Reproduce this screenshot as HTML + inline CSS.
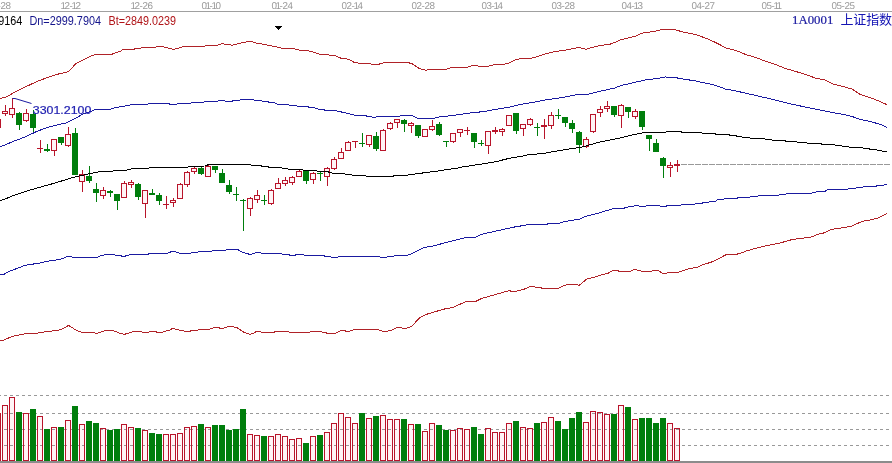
<!DOCTYPE html>
<html><head><meta charset="utf-8"><style>
html,body{margin:0;padding:0;background:#fff;}
body{width:892px;height:463px;overflow:hidden;}
svg{display:block;}
.d{font-family:"Liberation Sans",sans-serif;font-size:19.8px;fill:#9a9a9a;}
.lg{font-family:"Liberation Sans",sans-serif;font-size:12.3px;}
.nm{font-family:"Liberation Serif","Noto Serif CJK SC",serif;font-size:12px;fill:#1a1aa0;}
</style></head><body>
<svg width="892" height="463" viewBox="0 0 892 463">
<rect x="0" y="0" width="892" height="463" fill="#fff"/>
<g class="d" transform="matrix(0.5,0,0.0005,0.5,0,0)">
<text x="-13.6 -7.6 -1.6 6.4 16.4" y="18" text-anchor="middle">11-28</text>
<text x="126.4 134.4 142.4 148.4 156.4" y="18" text-anchor="middle">12-12</text>
<text x="266.4 274.4 282.4 290.4 300.4" y="18" text-anchor="middle">12-26</text>
<text x="408.4 416.4 422.4 428.4 436.4" y="18" text-anchor="middle">01-10</text>
<text x="548.4 556.4 562.4 570.4 580.4" y="18" text-anchor="middle">01-24</text>
<text x="688.4 698.4 706.4 712.4 720.4" y="18" text-anchor="middle">02-14</text>
<text x="828.4 838.4 846.4 854.4 864.4" y="18" text-anchor="middle">02-28</text>
<text x="968.4 978.4 986.4 992.4 1000.4" y="18" text-anchor="middle">03-14</text>
<text x="1108.4 1118.4 1126.4 1134.4 1144.4" y="18" text-anchor="middle">03-28</text>
<text x="1248.4 1258.4 1266.4 1272.4 1280.4" y="18" text-anchor="middle">04-13</text>
<text x="1388.4 1398.4 1406.4 1414.4 1424.4" y="18" text-anchor="middle">04-27</text>
<text x="1528.4 1538.4 1546.4 1552.4 1558.4" y="18" text-anchor="middle">05-11</text>
<text x="1668.4 1678.4 1686.4 1694.4 1704.4" y="18" text-anchor="middle">05-25</text>
</g>
<rect x="0" y="11" width="892" height="1" fill="#a0a0a0"/>
<g class="lg">
<text x="-1.7" y="25" fill="#000" textLength="24" lengthAdjust="spacingAndGlyphs">9164</text>
<text x="29.5" y="25" fill="#14148c" textLength="71.5" lengthAdjust="spacingAndGlyphs">Dn=2999.7904</text>
<text x="108.5" y="25" fill="#b01418" textLength="67.5" lengthAdjust="spacingAndGlyphs">Bt=2849.0239</text>
</g>
<text x="792" y="24" class="nm" textLength="41.3" lengthAdjust="spacingAndGlyphs" stroke="#1a1aa0" stroke-width="0.2">1A0001</text>
<text x="840.5" y="24" style="font-family:'Liberation Sans','Noto Sans CJK SC',sans-serif;font-size:13px;fill:#1414b4;letter-spacing:-0.15px">上证指数</text>
<g fill="#000" shape-rendering="crispEdges">
<rect x="275" y="26" width="7" height="1"/><rect x="276" y="27" width="5" height="1"/><rect x="277" y="28" width="3" height="1"/><rect x="278" y="29" width="1" height="1"/>
</g>
<g shape-rendering="crispEdges"><rect x="-4" y="414" width="4" height="46" fill="#fff4f6"/>
<rect x="3" y="406" width="4" height="54" fill="#fff4f6"/>
<rect x="10" y="398" width="4" height="62" fill="#fff4f6"/>
<rect x="24" y="414" width="4" height="46" fill="#fff4f6"/>
<rect x="38" y="417" width="4" height="43" fill="#fff4f6"/>
<rect x="52" y="428" width="4" height="32" fill="#fff4f6"/>
<rect x="66" y="421" width="4" height="39" fill="#fff4f6"/>
<rect x="80" y="425" width="4" height="35" fill="#fff4f6"/>
<rect x="101" y="429" width="4" height="31" fill="#fff4f6"/>
<rect x="122" y="425" width="4" height="35" fill="#fff4f6"/>
<rect x="129" y="428" width="4" height="32" fill="#fff4f6"/>
<rect x="143" y="431" width="4" height="29" fill="#fff4f6"/>
<rect x="164" y="435" width="4" height="25" fill="#fff4f6"/>
<rect x="171" y="435" width="4" height="25" fill="#fff4f6"/>
<rect x="178" y="434" width="4" height="26" fill="#fff4f6"/>
<rect x="185" y="428" width="4" height="32" fill="#fff4f6"/>
<rect x="192" y="427" width="4" height="33" fill="#fff4f6"/>
<rect x="206" y="428" width="4" height="32" fill="#fff4f6"/>
<rect x="248" y="435" width="4" height="25" fill="#fff4f6"/>
<rect x="255" y="436" width="4" height="24" fill="#fff4f6"/>
<rect x="269" y="437" width="4" height="23" fill="#fff4f6"/>
<rect x="276" y="435" width="4" height="25" fill="#fff4f6"/>
<rect x="283" y="437" width="4" height="23" fill="#fff4f6"/>
<rect x="290" y="440" width="4" height="20" fill="#fff4f6"/>
<rect x="297" y="439" width="4" height="21" fill="#fff4f6"/>
<rect x="311" y="437" width="4" height="23" fill="#fff4f6"/>
<rect x="325" y="433" width="4" height="27" fill="#fff4f6"/>
<rect x="332" y="424" width="4" height="36" fill="#fff4f6"/>
<rect x="339" y="414" width="4" height="46" fill="#fff4f6"/>
<rect x="346" y="418" width="4" height="42" fill="#fff4f6"/>
<rect x="353" y="424" width="4" height="36" fill="#fff4f6"/>
<rect x="367" y="419" width="4" height="41" fill="#fff4f6"/>
<rect x="381" y="416" width="4" height="44" fill="#fff4f6"/>
<rect x="388" y="420" width="4" height="40" fill="#fff4f6"/>
<rect x="395" y="420" width="4" height="40" fill="#fff4f6"/>
<rect x="409" y="425" width="4" height="35" fill="#fff4f6"/>
<rect x="423" y="432" width="4" height="28" fill="#fff4f6"/>
<rect x="430" y="424" width="4" height="36" fill="#fff4f6"/>
<rect x="451" y="431" width="4" height="29" fill="#fff4f6"/>
<rect x="458" y="429" width="4" height="31" fill="#fff4f6"/>
<rect x="465" y="430" width="4" height="30" fill="#fff4f6"/>
<rect x="486" y="429" width="4" height="31" fill="#fff4f6"/>
<rect x="493" y="433" width="4" height="27" fill="#fff4f6"/>
<rect x="500" y="433" width="4" height="27" fill="#fff4f6"/>
<rect x="507" y="424" width="4" height="36" fill="#fff4f6"/>
<rect x="521" y="428" width="4" height="32" fill="#fff4f6"/>
<rect x="528" y="429" width="4" height="31" fill="#fff4f6"/>
<rect x="542" y="423" width="4" height="37" fill="#fff4f6"/>
<rect x="549" y="418" width="4" height="42" fill="#fff4f6"/>
<rect x="584" y="423" width="4" height="37" fill="#fff4f6"/>
<rect x="591" y="412" width="4" height="48" fill="#fff4f6"/>
<rect x="598" y="413" width="4" height="47" fill="#fff4f6"/>
<rect x="605" y="415" width="4" height="45" fill="#fff4f6"/>
<rect x="619" y="406" width="4" height="54" fill="#fff4f6"/>
<rect x="633" y="420" width="4" height="40" fill="#fff4f6"/>
<rect x="668" y="424" width="4" height="36" fill="#fff4f6"/>
<rect x="675" y="429" width="4" height="31" fill="#fff4f6"/></g>
<g shape-rendering="crispEdges" stroke="#999" stroke-width="1">
<line x1="-2" y1="395.5" x2="892" y2="395.5" stroke-dasharray="3,3"/>
<line x1="-2" y1="413.5" x2="892" y2="413.5" stroke-dasharray="3,3"/>
<line x1="-2" y1="429.5" x2="892" y2="429.5" stroke-dasharray="3,3"/>
<line x1="-2" y1="445.5" x2="892" y2="445.5" stroke-dasharray="3,3"/>
<line x1="681" y1="164.5" x2="890" y2="164.5" stroke-dasharray="6,1"/>
</g>
<g shape-rendering="crispEdges">
<rect x="-4" y="120" width="4" height="7" fill="#fff4f6"/>
<rect x="-5" y="119" width="6" height="1" fill="#b8142a"/>
<rect x="-5" y="127" width="6" height="1" fill="#b8142a"/>
<rect x="-5" y="120" width="1" height="7" fill="#b8142a"/>
<rect x="0" y="120" width="1" height="7" fill="#b8142a"/>
<rect x="5" y="105" width="1" height="6" fill="#b8142a"/>
<rect x="5" y="114" width="1" height="2" fill="#b8142a"/>
<rect x="3" y="112" width="4" height="1" fill="#fff4f6"/>
<rect x="2" y="111" width="6" height="1" fill="#b8142a"/>
<rect x="2" y="113" width="6" height="1" fill="#b8142a"/>
<rect x="2" y="112" width="1" height="1" fill="#b8142a"/>
<rect x="7" y="112" width="1" height="1" fill="#b8142a"/>
<rect x="12" y="98" width="1" height="10" fill="#b8142a"/>
<rect x="12" y="115" width="1" height="3" fill="#b8142a"/>
<rect x="10" y="109" width="4" height="5" fill="#fff4f6"/>
<rect x="9" y="108" width="6" height="1" fill="#b8142a"/>
<rect x="9" y="114" width="6" height="1" fill="#b8142a"/>
<rect x="9" y="109" width="1" height="5" fill="#b8142a"/>
<rect x="14" y="109" width="1" height="5" fill="#b8142a"/>
<rect x="19" y="112" width="1" height="18" fill="#007e0c"/>
<rect x="16" y="113" width="6" height="12" fill="#007e0c"/>
<rect x="26" y="109" width="1" height="4" fill="#b8142a"/>
<rect x="26" y="121" width="1" height="1" fill="#b8142a"/>
<rect x="24" y="114" width="4" height="6" fill="#fff4f6"/>
<rect x="23" y="113" width="6" height="1" fill="#b8142a"/>
<rect x="23" y="120" width="6" height="1" fill="#b8142a"/>
<rect x="23" y="114" width="1" height="6" fill="#b8142a"/>
<rect x="28" y="114" width="1" height="6" fill="#b8142a"/>
<rect x="33" y="110" width="1" height="22" fill="#007e0c"/>
<rect x="30" y="114" width="6" height="14" fill="#007e0c"/>
<rect x="40" y="140" width="1" height="8" fill="#b8142a"/>
<rect x="40" y="149" width="1" height="4" fill="#b8142a"/>
<rect x="37" y="148" width="6" height="1" fill="#b8142a"/>
<rect x="47" y="144" width="1" height="8" fill="#007e0c"/>
<rect x="44" y="149" width="6" height="2" fill="#007e0c"/>
<rect x="54" y="151" width="1" height="5" fill="#b8142a"/>
<rect x="52" y="140" width="4" height="10" fill="#fff4f6"/>
<rect x="51" y="139" width="6" height="1" fill="#b8142a"/>
<rect x="51" y="150" width="6" height="1" fill="#b8142a"/>
<rect x="51" y="140" width="1" height="10" fill="#b8142a"/>
<rect x="56" y="140" width="1" height="10" fill="#b8142a"/>
<rect x="61" y="137" width="1" height="8" fill="#007e0c"/>
<rect x="58" y="137" width="6" height="6" fill="#007e0c"/>
<rect x="68" y="127" width="1" height="7" fill="#b8142a"/>
<rect x="68" y="146" width="1" height="1" fill="#b8142a"/>
<rect x="66" y="135" width="4" height="10" fill="#fff4f6"/>
<rect x="65" y="134" width="6" height="1" fill="#b8142a"/>
<rect x="65" y="145" width="6" height="1" fill="#b8142a"/>
<rect x="65" y="135" width="1" height="10" fill="#b8142a"/>
<rect x="70" y="135" width="1" height="10" fill="#b8142a"/>
<rect x="75" y="128" width="1" height="47" fill="#007e0c"/>
<rect x="72" y="133" width="6" height="42" fill="#007e0c"/>
<rect x="82" y="170" width="1" height="4" fill="#b8142a"/>
<rect x="82" y="182" width="1" height="10" fill="#b8142a"/>
<rect x="80" y="175" width="4" height="6" fill="#fff4f6"/>
<rect x="79" y="174" width="6" height="1" fill="#b8142a"/>
<rect x="79" y="181" width="6" height="1" fill="#b8142a"/>
<rect x="79" y="175" width="1" height="6" fill="#b8142a"/>
<rect x="84" y="175" width="1" height="6" fill="#b8142a"/>
<rect x="89" y="166" width="1" height="17" fill="#007e0c"/>
<rect x="86" y="176" width="6" height="5" fill="#007e0c"/>
<rect x="96" y="183" width="1" height="19" fill="#007e0c"/>
<rect x="93" y="189" width="6" height="4" fill="#007e0c"/>
<rect x="103" y="187" width="1" height="3" fill="#b8142a"/>
<rect x="103" y="196" width="1" height="3" fill="#b8142a"/>
<rect x="101" y="191" width="4" height="4" fill="#fff4f6"/>
<rect x="100" y="190" width="6" height="1" fill="#b8142a"/>
<rect x="100" y="195" width="6" height="1" fill="#b8142a"/>
<rect x="100" y="191" width="1" height="4" fill="#b8142a"/>
<rect x="105" y="191" width="1" height="4" fill="#b8142a"/>
<rect x="110" y="190" width="1" height="7" fill="#007e0c"/>
<rect x="107" y="191" width="6" height="2" fill="#007e0c"/>
<rect x="117" y="194" width="1" height="16" fill="#007e0c"/>
<rect x="114" y="194" width="6" height="7" fill="#007e0c"/>
<rect x="124" y="181" width="1" height="2" fill="#b8142a"/>
<rect x="122" y="184" width="4" height="13" fill="#fff4f6"/>
<rect x="121" y="183" width="6" height="1" fill="#b8142a"/>
<rect x="121" y="197" width="6" height="1" fill="#b8142a"/>
<rect x="121" y="184" width="1" height="13" fill="#b8142a"/>
<rect x="126" y="184" width="1" height="13" fill="#b8142a"/>
<rect x="131" y="180" width="1" height="2" fill="#b8142a"/>
<rect x="131" y="185" width="1" height="3" fill="#b8142a"/>
<rect x="129" y="183" width="4" height="1" fill="#fff4f6"/>
<rect x="128" y="182" width="6" height="1" fill="#b8142a"/>
<rect x="128" y="184" width="6" height="1" fill="#b8142a"/>
<rect x="128" y="183" width="1" height="1" fill="#b8142a"/>
<rect x="133" y="183" width="1" height="1" fill="#b8142a"/>
<rect x="138" y="183" width="1" height="17" fill="#007e0c"/>
<rect x="135" y="184" width="6" height="13" fill="#007e0c"/>
<rect x="145" y="204" width="1" height="14" fill="#b8142a"/>
<rect x="143" y="191" width="4" height="12" fill="#fff4f6"/>
<rect x="142" y="190" width="6" height="1" fill="#b8142a"/>
<rect x="142" y="203" width="6" height="1" fill="#b8142a"/>
<rect x="142" y="191" width="1" height="12" fill="#b8142a"/>
<rect x="147" y="191" width="1" height="12" fill="#b8142a"/>
<rect x="152" y="189" width="1" height="6" fill="#007e0c"/>
<rect x="149" y="193" width="6" height="2" fill="#007e0c"/>
<rect x="159" y="193" width="1" height="12" fill="#007e0c"/>
<rect x="156" y="195" width="6" height="6" fill="#007e0c"/>
<rect x="166" y="196" width="1" height="8" fill="#b8142a"/>
<rect x="166" y="205" width="1" height="4" fill="#b8142a"/>
<rect x="163" y="204" width="6" height="1" fill="#b8142a"/>
<rect x="173" y="198" width="1" height="2" fill="#b8142a"/>
<rect x="173" y="203" width="1" height="4" fill="#b8142a"/>
<rect x="171" y="201" width="4" height="1" fill="#fff4f6"/>
<rect x="170" y="200" width="6" height="1" fill="#b8142a"/>
<rect x="170" y="202" width="6" height="1" fill="#b8142a"/>
<rect x="170" y="201" width="1" height="1" fill="#b8142a"/>
<rect x="175" y="201" width="1" height="1" fill="#b8142a"/>
<rect x="180" y="183" width="1" height="1" fill="#b8142a"/>
<rect x="178" y="185" width="4" height="13" fill="#fff4f6"/>
<rect x="177" y="184" width="6" height="1" fill="#b8142a"/>
<rect x="177" y="198" width="6" height="1" fill="#b8142a"/>
<rect x="177" y="185" width="1" height="13" fill="#b8142a"/>
<rect x="182" y="185" width="1" height="13" fill="#b8142a"/>
<rect x="187" y="171" width="1" height="1" fill="#b8142a"/>
<rect x="187" y="185" width="1" height="2" fill="#b8142a"/>
<rect x="185" y="173" width="4" height="11" fill="#fff4f6"/>
<rect x="184" y="172" width="6" height="1" fill="#b8142a"/>
<rect x="184" y="184" width="6" height="1" fill="#b8142a"/>
<rect x="184" y="173" width="1" height="11" fill="#b8142a"/>
<rect x="189" y="173" width="1" height="11" fill="#b8142a"/>
<rect x="194" y="166" width="1" height="2" fill="#b8142a"/>
<rect x="194" y="172" width="1" height="2" fill="#b8142a"/>
<rect x="192" y="169" width="4" height="2" fill="#fff4f6"/>
<rect x="191" y="168" width="6" height="1" fill="#b8142a"/>
<rect x="191" y="171" width="6" height="1" fill="#b8142a"/>
<rect x="191" y="169" width="1" height="2" fill="#b8142a"/>
<rect x="196" y="169" width="1" height="2" fill="#b8142a"/>
<rect x="201" y="166" width="1" height="9" fill="#007e0c"/>
<rect x="198" y="168" width="6" height="6" fill="#007e0c"/>
<rect x="208" y="164" width="1" height="2" fill="#b8142a"/>
<rect x="206" y="167" width="4" height="9" fill="#fff4f6"/>
<rect x="205" y="166" width="6" height="1" fill="#b8142a"/>
<rect x="205" y="176" width="6" height="1" fill="#b8142a"/>
<rect x="205" y="167" width="1" height="9" fill="#b8142a"/>
<rect x="210" y="167" width="1" height="9" fill="#b8142a"/>
<rect x="215" y="166" width="1" height="7" fill="#007e0c"/>
<rect x="212" y="166" width="6" height="4" fill="#007e0c"/>
<rect x="222" y="169" width="1" height="14" fill="#007e0c"/>
<rect x="219" y="173" width="6" height="10" fill="#007e0c"/>
<rect x="229" y="180" width="1" height="14" fill="#007e0c"/>
<rect x="226" y="185" width="6" height="7" fill="#007e0c"/>
<rect x="236" y="187" width="1" height="14" fill="#007e0c"/>
<rect x="233" y="194" width="6" height="1" fill="#007e0c"/>
<rect x="243" y="199" width="1" height="32" fill="#007e0c"/>
<rect x="240" y="200" width="6" height="1" fill="#007e0c"/>
<rect x="250" y="197" width="1" height="1" fill="#b8142a"/>
<rect x="250" y="209" width="1" height="7" fill="#b8142a"/>
<rect x="248" y="199" width="4" height="9" fill="#fff4f6"/>
<rect x="247" y="198" width="6" height="1" fill="#b8142a"/>
<rect x="247" y="208" width="6" height="1" fill="#b8142a"/>
<rect x="247" y="199" width="1" height="9" fill="#b8142a"/>
<rect x="252" y="199" width="1" height="9" fill="#b8142a"/>
<rect x="257" y="190" width="1" height="5" fill="#b8142a"/>
<rect x="257" y="200" width="1" height="3" fill="#b8142a"/>
<rect x="255" y="196" width="4" height="3" fill="#fff4f6"/>
<rect x="254" y="195" width="6" height="1" fill="#b8142a"/>
<rect x="254" y="199" width="6" height="1" fill="#b8142a"/>
<rect x="254" y="196" width="1" height="3" fill="#b8142a"/>
<rect x="259" y="196" width="1" height="3" fill="#b8142a"/>
<rect x="264" y="195" width="1" height="10" fill="#007e0c"/>
<rect x="261" y="200" width="6" height="1" fill="#007e0c"/>
<rect x="271" y="189" width="1" height="1" fill="#b8142a"/>
<rect x="271" y="204" width="1" height="1" fill="#b8142a"/>
<rect x="269" y="191" width="4" height="12" fill="#fff4f6"/>
<rect x="268" y="190" width="6" height="1" fill="#b8142a"/>
<rect x="268" y="203" width="6" height="1" fill="#b8142a"/>
<rect x="268" y="191" width="1" height="12" fill="#b8142a"/>
<rect x="273" y="191" width="1" height="12" fill="#b8142a"/>
<rect x="278" y="178" width="1" height="5" fill="#b8142a"/>
<rect x="276" y="184" width="4" height="4" fill="#fff4f6"/>
<rect x="275" y="183" width="6" height="1" fill="#b8142a"/>
<rect x="275" y="188" width="6" height="1" fill="#b8142a"/>
<rect x="275" y="184" width="1" height="4" fill="#b8142a"/>
<rect x="280" y="184" width="1" height="4" fill="#b8142a"/>
<rect x="285" y="177" width="1" height="3" fill="#b8142a"/>
<rect x="285" y="184" width="1" height="2" fill="#b8142a"/>
<rect x="283" y="181" width="4" height="2" fill="#fff4f6"/>
<rect x="282" y="180" width="6" height="1" fill="#b8142a"/>
<rect x="282" y="183" width="6" height="1" fill="#b8142a"/>
<rect x="282" y="181" width="1" height="2" fill="#b8142a"/>
<rect x="287" y="181" width="1" height="2" fill="#b8142a"/>
<rect x="292" y="176" width="1" height="1" fill="#b8142a"/>
<rect x="292" y="183" width="1" height="2" fill="#b8142a"/>
<rect x="290" y="178" width="4" height="4" fill="#fff4f6"/>
<rect x="289" y="177" width="6" height="1" fill="#b8142a"/>
<rect x="289" y="182" width="6" height="1" fill="#b8142a"/>
<rect x="289" y="178" width="1" height="4" fill="#b8142a"/>
<rect x="294" y="178" width="1" height="4" fill="#b8142a"/>
<rect x="299" y="170" width="1" height="1" fill="#b8142a"/>
<rect x="297" y="172" width="4" height="4" fill="#fff4f6"/>
<rect x="296" y="171" width="6" height="1" fill="#b8142a"/>
<rect x="296" y="176" width="6" height="1" fill="#b8142a"/>
<rect x="296" y="172" width="1" height="4" fill="#b8142a"/>
<rect x="301" y="172" width="1" height="4" fill="#b8142a"/>
<rect x="306" y="170" width="1" height="14" fill="#007e0c"/>
<rect x="303" y="170" width="6" height="11" fill="#007e0c"/>
<rect x="313" y="172" width="1" height="1" fill="#b8142a"/>
<rect x="313" y="180" width="1" height="4" fill="#b8142a"/>
<rect x="311" y="174" width="4" height="5" fill="#fff4f6"/>
<rect x="310" y="173" width="6" height="1" fill="#b8142a"/>
<rect x="310" y="179" width="6" height="1" fill="#b8142a"/>
<rect x="310" y="174" width="1" height="5" fill="#b8142a"/>
<rect x="315" y="174" width="1" height="5" fill="#b8142a"/>
<rect x="320" y="172" width="1" height="9" fill="#007e0c"/>
<rect x="317" y="173" width="6" height="1" fill="#007e0c"/>
<rect x="327" y="167" width="1" height="1" fill="#b8142a"/>
<rect x="327" y="177" width="1" height="9" fill="#b8142a"/>
<rect x="325" y="169" width="4" height="7" fill="#fff4f6"/>
<rect x="324" y="168" width="6" height="1" fill="#b8142a"/>
<rect x="324" y="176" width="6" height="1" fill="#b8142a"/>
<rect x="324" y="169" width="1" height="7" fill="#b8142a"/>
<rect x="329" y="169" width="1" height="7" fill="#b8142a"/>
<rect x="334" y="157" width="1" height="2" fill="#b8142a"/>
<rect x="334" y="169" width="1" height="1" fill="#b8142a"/>
<rect x="332" y="160" width="4" height="8" fill="#fff4f6"/>
<rect x="331" y="159" width="6" height="1" fill="#b8142a"/>
<rect x="331" y="168" width="6" height="1" fill="#b8142a"/>
<rect x="331" y="160" width="1" height="8" fill="#b8142a"/>
<rect x="336" y="160" width="1" height="8" fill="#b8142a"/>
<rect x="341" y="148" width="1" height="4" fill="#b8142a"/>
<rect x="339" y="153" width="4" height="5" fill="#fff4f6"/>
<rect x="338" y="152" width="6" height="1" fill="#b8142a"/>
<rect x="338" y="158" width="6" height="1" fill="#b8142a"/>
<rect x="338" y="153" width="1" height="5" fill="#b8142a"/>
<rect x="343" y="153" width="1" height="5" fill="#b8142a"/>
<rect x="348" y="141" width="1" height="1" fill="#b8142a"/>
<rect x="346" y="143" width="4" height="7" fill="#fff4f6"/>
<rect x="345" y="142" width="6" height="1" fill="#b8142a"/>
<rect x="345" y="150" width="6" height="1" fill="#b8142a"/>
<rect x="345" y="143" width="1" height="7" fill="#b8142a"/>
<rect x="350" y="143" width="1" height="7" fill="#b8142a"/>
<rect x="355" y="142" width="1" height="6" fill="#b8142a"/>
<rect x="352" y="141" width="6" height="1" fill="#b8142a"/>
<rect x="362" y="133" width="1" height="14" fill="#007e0c"/>
<rect x="359" y="143" width="6" height="1" fill="#007e0c"/>
<rect x="369" y="145" width="1" height="2" fill="#b8142a"/>
<rect x="367" y="136" width="4" height="8" fill="#fff4f6"/>
<rect x="366" y="135" width="6" height="1" fill="#b8142a"/>
<rect x="366" y="144" width="6" height="1" fill="#b8142a"/>
<rect x="366" y="136" width="1" height="8" fill="#b8142a"/>
<rect x="371" y="136" width="1" height="8" fill="#b8142a"/>
<rect x="376" y="132" width="1" height="19" fill="#007e0c"/>
<rect x="373" y="136" width="6" height="13" fill="#007e0c"/>
<rect x="383" y="129" width="1" height="1" fill="#b8142a"/>
<rect x="381" y="131" width="4" height="19" fill="#fff4f6"/>
<rect x="380" y="130" width="6" height="1" fill="#b8142a"/>
<rect x="380" y="150" width="6" height="1" fill="#b8142a"/>
<rect x="380" y="131" width="1" height="19" fill="#b8142a"/>
<rect x="385" y="131" width="1" height="19" fill="#b8142a"/>
<rect x="390" y="122" width="1" height="1" fill="#b8142a"/>
<rect x="390" y="129" width="1" height="1" fill="#b8142a"/>
<rect x="388" y="124" width="4" height="4" fill="#fff4f6"/>
<rect x="387" y="123" width="6" height="1" fill="#b8142a"/>
<rect x="387" y="128" width="6" height="1" fill="#b8142a"/>
<rect x="387" y="124" width="1" height="4" fill="#b8142a"/>
<rect x="392" y="124" width="1" height="4" fill="#b8142a"/>
<rect x="397" y="123" width="1" height="5" fill="#b8142a"/>
<rect x="395" y="120" width="4" height="2" fill="#fff4f6"/>
<rect x="394" y="119" width="6" height="1" fill="#b8142a"/>
<rect x="394" y="122" width="6" height="1" fill="#b8142a"/>
<rect x="394" y="120" width="1" height="2" fill="#b8142a"/>
<rect x="399" y="120" width="1" height="2" fill="#b8142a"/>
<rect x="404" y="119" width="1" height="13" fill="#007e0c"/>
<rect x="401" y="120" width="6" height="4" fill="#007e0c"/>
<rect x="411" y="122" width="1" height="1" fill="#b8142a"/>
<rect x="411" y="126" width="1" height="7" fill="#b8142a"/>
<rect x="409" y="124" width="4" height="1" fill="#fff4f6"/>
<rect x="408" y="123" width="6" height="1" fill="#b8142a"/>
<rect x="408" y="125" width="6" height="1" fill="#b8142a"/>
<rect x="408" y="124" width="1" height="1" fill="#b8142a"/>
<rect x="413" y="124" width="1" height="1" fill="#b8142a"/>
<rect x="418" y="125" width="1" height="13" fill="#007e0c"/>
<rect x="415" y="125" width="6" height="11" fill="#007e0c"/>
<rect x="423" y="130" width="4" height="6" fill="#fff4f6"/>
<rect x="422" y="129" width="6" height="1" fill="#b8142a"/>
<rect x="422" y="136" width="6" height="1" fill="#b8142a"/>
<rect x="422" y="130" width="1" height="6" fill="#b8142a"/>
<rect x="427" y="130" width="1" height="6" fill="#b8142a"/>
<rect x="432" y="120" width="1" height="6" fill="#b8142a"/>
<rect x="432" y="130" width="1" height="1" fill="#b8142a"/>
<rect x="430" y="127" width="4" height="2" fill="#fff4f6"/>
<rect x="429" y="126" width="6" height="1" fill="#b8142a"/>
<rect x="429" y="129" width="6" height="1" fill="#b8142a"/>
<rect x="429" y="127" width="1" height="2" fill="#b8142a"/>
<rect x="434" y="127" width="1" height="2" fill="#b8142a"/>
<rect x="439" y="122" width="1" height="14" fill="#007e0c"/>
<rect x="436" y="124" width="6" height="11" fill="#007e0c"/>
<rect x="446" y="141" width="1" height="6" fill="#007e0c"/>
<rect x="443" y="141" width="6" height="1" fill="#007e0c"/>
<rect x="453" y="142" width="1" height="1" fill="#b8142a"/>
<rect x="451" y="134" width="4" height="7" fill="#fff4f6"/>
<rect x="450" y="133" width="6" height="1" fill="#b8142a"/>
<rect x="450" y="141" width="6" height="1" fill="#b8142a"/>
<rect x="450" y="134" width="1" height="7" fill="#b8142a"/>
<rect x="455" y="134" width="1" height="7" fill="#b8142a"/>
<rect x="460" y="133" width="1" height="4" fill="#b8142a"/>
<rect x="458" y="130" width="4" height="2" fill="#fff4f6"/>
<rect x="457" y="129" width="6" height="1" fill="#b8142a"/>
<rect x="457" y="132" width="6" height="1" fill="#b8142a"/>
<rect x="457" y="130" width="1" height="2" fill="#b8142a"/>
<rect x="462" y="130" width="1" height="2" fill="#b8142a"/>
<rect x="467" y="127" width="1" height="3" fill="#b8142a"/>
<rect x="467" y="131" width="1" height="4" fill="#b8142a"/>
<rect x="464" y="130" width="6" height="1" fill="#b8142a"/>
<rect x="474" y="133" width="1" height="15" fill="#007e0c"/>
<rect x="471" y="133" width="6" height="9" fill="#007e0c"/>
<rect x="481" y="140" width="1" height="6" fill="#007e0c"/>
<rect x="478" y="143" width="6" height="1" fill="#007e0c"/>
<rect x="488" y="146" width="1" height="8" fill="#b8142a"/>
<rect x="486" y="132" width="4" height="13" fill="#fff4f6"/>
<rect x="485" y="131" width="6" height="1" fill="#b8142a"/>
<rect x="485" y="145" width="6" height="1" fill="#b8142a"/>
<rect x="485" y="132" width="1" height="13" fill="#b8142a"/>
<rect x="490" y="132" width="1" height="13" fill="#b8142a"/>
<rect x="495" y="127" width="1" height="3" fill="#b8142a"/>
<rect x="495" y="132" width="1" height="2" fill="#b8142a"/>
<rect x="492" y="130" width="6" height="2" fill="#b8142a"/>
<rect x="502" y="128" width="1" height="1" fill="#b8142a"/>
<rect x="502" y="132" width="1" height="4" fill="#b8142a"/>
<rect x="500" y="130" width="4" height="1" fill="#fff4f6"/>
<rect x="499" y="129" width="6" height="1" fill="#b8142a"/>
<rect x="499" y="131" width="6" height="1" fill="#b8142a"/>
<rect x="499" y="130" width="1" height="1" fill="#b8142a"/>
<rect x="504" y="130" width="1" height="1" fill="#b8142a"/>
<rect x="507" y="116" width="4" height="9" fill="#fff4f6"/>
<rect x="506" y="115" width="6" height="1" fill="#b8142a"/>
<rect x="506" y="125" width="6" height="1" fill="#b8142a"/>
<rect x="506" y="116" width="1" height="9" fill="#b8142a"/>
<rect x="511" y="116" width="1" height="9" fill="#b8142a"/>
<rect x="516" y="113" width="1" height="21" fill="#007e0c"/>
<rect x="513" y="113" width="6" height="18" fill="#007e0c"/>
<rect x="523" y="129" width="1" height="7" fill="#b8142a"/>
<rect x="521" y="125" width="4" height="3" fill="#fff4f6"/>
<rect x="520" y="124" width="6" height="1" fill="#b8142a"/>
<rect x="520" y="128" width="6" height="1" fill="#b8142a"/>
<rect x="520" y="125" width="1" height="3" fill="#b8142a"/>
<rect x="525" y="125" width="1" height="3" fill="#b8142a"/>
<rect x="530" y="118" width="1" height="1" fill="#b8142a"/>
<rect x="530" y="125" width="1" height="1" fill="#b8142a"/>
<rect x="528" y="120" width="4" height="4" fill="#fff4f6"/>
<rect x="527" y="119" width="6" height="1" fill="#b8142a"/>
<rect x="527" y="124" width="6" height="1" fill="#b8142a"/>
<rect x="527" y="120" width="1" height="4" fill="#b8142a"/>
<rect x="532" y="120" width="1" height="4" fill="#b8142a"/>
<rect x="537" y="123" width="1" height="13" fill="#007e0c"/>
<rect x="534" y="127" width="6" height="1" fill="#007e0c"/>
<rect x="544" y="119" width="1" height="6" fill="#b8142a"/>
<rect x="544" y="127" width="1" height="12" fill="#b8142a"/>
<rect x="541" y="125" width="6" height="2" fill="#b8142a"/>
<rect x="551" y="112" width="1" height="3" fill="#b8142a"/>
<rect x="551" y="126" width="1" height="3" fill="#b8142a"/>
<rect x="549" y="116" width="4" height="9" fill="#fff4f6"/>
<rect x="548" y="115" width="6" height="1" fill="#b8142a"/>
<rect x="548" y="125" width="6" height="1" fill="#b8142a"/>
<rect x="548" y="116" width="1" height="9" fill="#b8142a"/>
<rect x="553" y="116" width="1" height="9" fill="#b8142a"/>
<rect x="558" y="109" width="1" height="10" fill="#007e0c"/>
<rect x="555" y="115" width="6" height="1" fill="#007e0c"/>
<rect x="565" y="117" width="1" height="10" fill="#007e0c"/>
<rect x="562" y="117" width="6" height="6" fill="#007e0c"/>
<rect x="572" y="120" width="1" height="13" fill="#007e0c"/>
<rect x="569" y="123" width="6" height="6" fill="#007e0c"/>
<rect x="579" y="131" width="1" height="22" fill="#007e0c"/>
<rect x="576" y="132" width="6" height="13" fill="#007e0c"/>
<rect x="586" y="137" width="1" height="2" fill="#b8142a"/>
<rect x="586" y="147" width="1" height="1" fill="#b8142a"/>
<rect x="584" y="140" width="4" height="6" fill="#fff4f6"/>
<rect x="583" y="139" width="6" height="1" fill="#b8142a"/>
<rect x="583" y="146" width="6" height="1" fill="#b8142a"/>
<rect x="583" y="140" width="1" height="6" fill="#b8142a"/>
<rect x="588" y="140" width="1" height="6" fill="#b8142a"/>
<rect x="593" y="132" width="1" height="1" fill="#b8142a"/>
<rect x="591" y="115" width="4" height="16" fill="#fff4f6"/>
<rect x="590" y="114" width="6" height="1" fill="#b8142a"/>
<rect x="590" y="131" width="6" height="1" fill="#b8142a"/>
<rect x="590" y="115" width="1" height="16" fill="#b8142a"/>
<rect x="595" y="115" width="1" height="16" fill="#b8142a"/>
<rect x="600" y="106" width="1" height="3" fill="#b8142a"/>
<rect x="600" y="113" width="1" height="4" fill="#b8142a"/>
<rect x="598" y="110" width="4" height="2" fill="#fff4f6"/>
<rect x="597" y="109" width="6" height="1" fill="#b8142a"/>
<rect x="597" y="112" width="6" height="1" fill="#b8142a"/>
<rect x="597" y="110" width="1" height="2" fill="#b8142a"/>
<rect x="602" y="110" width="1" height="2" fill="#b8142a"/>
<rect x="607" y="101" width="1" height="5" fill="#b8142a"/>
<rect x="607" y="109" width="1" height="3" fill="#b8142a"/>
<rect x="605" y="107" width="4" height="1" fill="#fff4f6"/>
<rect x="604" y="106" width="6" height="1" fill="#b8142a"/>
<rect x="604" y="108" width="6" height="1" fill="#b8142a"/>
<rect x="604" y="107" width="1" height="1" fill="#b8142a"/>
<rect x="609" y="107" width="1" height="1" fill="#b8142a"/>
<rect x="614" y="106" width="1" height="11" fill="#007e0c"/>
<rect x="611" y="106" width="6" height="9" fill="#007e0c"/>
<rect x="621" y="104" width="1" height="1" fill="#b8142a"/>
<rect x="621" y="116" width="1" height="12" fill="#b8142a"/>
<rect x="619" y="106" width="4" height="9" fill="#fff4f6"/>
<rect x="618" y="105" width="6" height="1" fill="#b8142a"/>
<rect x="618" y="115" width="6" height="1" fill="#b8142a"/>
<rect x="618" y="106" width="1" height="9" fill="#b8142a"/>
<rect x="623" y="106" width="1" height="9" fill="#b8142a"/>
<rect x="628" y="107" width="1" height="11" fill="#007e0c"/>
<rect x="625" y="107" width="6" height="5" fill="#007e0c"/>
<rect x="635" y="109" width="1" height="2" fill="#b8142a"/>
<rect x="635" y="117" width="1" height="2" fill="#b8142a"/>
<rect x="633" y="112" width="4" height="4" fill="#fff4f6"/>
<rect x="632" y="111" width="6" height="1" fill="#b8142a"/>
<rect x="632" y="116" width="6" height="1" fill="#b8142a"/>
<rect x="632" y="112" width="1" height="4" fill="#b8142a"/>
<rect x="637" y="112" width="1" height="4" fill="#b8142a"/>
<rect x="642" y="111" width="1" height="19" fill="#007e0c"/>
<rect x="639" y="111" width="6" height="16" fill="#007e0c"/>
<rect x="649" y="135" width="1" height="16" fill="#007e0c"/>
<rect x="646" y="135" width="6" height="4" fill="#007e0c"/>
<rect x="656" y="139" width="1" height="13" fill="#007e0c"/>
<rect x="653" y="143" width="6" height="9" fill="#007e0c"/>
<rect x="663" y="157" width="1" height="21" fill="#007e0c"/>
<rect x="660" y="158" width="6" height="8" fill="#007e0c"/>
<rect x="670" y="162" width="1" height="3" fill="#b8142a"/>
<rect x="670" y="168" width="1" height="9" fill="#b8142a"/>
<rect x="668" y="166" width="4" height="1" fill="#fff4f6"/>
<rect x="667" y="165" width="6" height="1" fill="#b8142a"/>
<rect x="667" y="167" width="6" height="1" fill="#b8142a"/>
<rect x="667" y="166" width="1" height="1" fill="#b8142a"/>
<rect x="672" y="166" width="1" height="1" fill="#b8142a"/>
<rect x="677" y="160" width="1" height="4" fill="#b8142a"/>
<rect x="677" y="166" width="1" height="6" fill="#b8142a"/>
<rect x="674" y="164" width="6" height="2" fill="#b8142a"/>
<rect x="-5" y="413" width="6" height="1" fill="#b8142a"/>
<rect x="-5" y="460" width="6" height="1" fill="#b8142a"/>
<rect x="-5" y="414" width="1" height="46" fill="#b8142a"/>
<rect x="0" y="414" width="1" height="46" fill="#b8142a"/>
<rect x="2" y="405" width="6" height="1" fill="#b8142a"/>
<rect x="2" y="460" width="6" height="1" fill="#b8142a"/>
<rect x="2" y="406" width="1" height="54" fill="#b8142a"/>
<rect x="7" y="406" width="1" height="54" fill="#b8142a"/>
<rect x="9" y="397" width="6" height="1" fill="#b8142a"/>
<rect x="9" y="460" width="6" height="1" fill="#b8142a"/>
<rect x="9" y="398" width="1" height="62" fill="#b8142a"/>
<rect x="14" y="398" width="1" height="62" fill="#b8142a"/>
<rect x="16" y="412" width="6" height="49" fill="#007e0c"/>
<rect x="23" y="413" width="6" height="1" fill="#b8142a"/>
<rect x="23" y="460" width="6" height="1" fill="#b8142a"/>
<rect x="23" y="414" width="1" height="46" fill="#b8142a"/>
<rect x="28" y="414" width="1" height="46" fill="#b8142a"/>
<rect x="30" y="409" width="6" height="52" fill="#007e0c"/>
<rect x="37" y="416" width="6" height="1" fill="#b8142a"/>
<rect x="37" y="460" width="6" height="1" fill="#b8142a"/>
<rect x="37" y="417" width="1" height="43" fill="#b8142a"/>
<rect x="42" y="417" width="1" height="43" fill="#b8142a"/>
<rect x="44" y="429" width="6" height="32" fill="#007e0c"/>
<rect x="51" y="427" width="6" height="1" fill="#b8142a"/>
<rect x="51" y="460" width="6" height="1" fill="#b8142a"/>
<rect x="51" y="428" width="1" height="32" fill="#b8142a"/>
<rect x="56" y="428" width="1" height="32" fill="#b8142a"/>
<rect x="58" y="427" width="6" height="34" fill="#007e0c"/>
<rect x="65" y="420" width="6" height="1" fill="#b8142a"/>
<rect x="65" y="460" width="6" height="1" fill="#b8142a"/>
<rect x="65" y="421" width="1" height="39" fill="#b8142a"/>
<rect x="70" y="421" width="1" height="39" fill="#b8142a"/>
<rect x="72" y="406" width="6" height="55" fill="#007e0c"/>
<rect x="79" y="424" width="6" height="1" fill="#b8142a"/>
<rect x="79" y="460" width="6" height="1" fill="#b8142a"/>
<rect x="79" y="425" width="1" height="35" fill="#b8142a"/>
<rect x="84" y="425" width="1" height="35" fill="#b8142a"/>
<rect x="86" y="421" width="6" height="40" fill="#007e0c"/>
<rect x="93" y="423" width="6" height="38" fill="#007e0c"/>
<rect x="100" y="428" width="6" height="1" fill="#b8142a"/>
<rect x="100" y="460" width="6" height="1" fill="#b8142a"/>
<rect x="100" y="429" width="1" height="31" fill="#b8142a"/>
<rect x="105" y="429" width="1" height="31" fill="#b8142a"/>
<rect x="107" y="430" width="6" height="31" fill="#007e0c"/>
<rect x="114" y="429" width="6" height="32" fill="#007e0c"/>
<rect x="121" y="424" width="6" height="1" fill="#b8142a"/>
<rect x="121" y="460" width="6" height="1" fill="#b8142a"/>
<rect x="121" y="425" width="1" height="35" fill="#b8142a"/>
<rect x="126" y="425" width="1" height="35" fill="#b8142a"/>
<rect x="128" y="427" width="6" height="1" fill="#b8142a"/>
<rect x="128" y="460" width="6" height="1" fill="#b8142a"/>
<rect x="128" y="428" width="1" height="32" fill="#b8142a"/>
<rect x="133" y="428" width="1" height="32" fill="#b8142a"/>
<rect x="135" y="428" width="6" height="33" fill="#007e0c"/>
<rect x="142" y="430" width="6" height="1" fill="#b8142a"/>
<rect x="142" y="460" width="6" height="1" fill="#b8142a"/>
<rect x="142" y="431" width="1" height="29" fill="#b8142a"/>
<rect x="147" y="431" width="1" height="29" fill="#b8142a"/>
<rect x="149" y="433" width="6" height="28" fill="#007e0c"/>
<rect x="156" y="434" width="6" height="27" fill="#007e0c"/>
<rect x="163" y="434" width="6" height="1" fill="#b8142a"/>
<rect x="163" y="460" width="6" height="1" fill="#b8142a"/>
<rect x="163" y="435" width="1" height="25" fill="#b8142a"/>
<rect x="168" y="435" width="1" height="25" fill="#b8142a"/>
<rect x="170" y="434" width="6" height="1" fill="#b8142a"/>
<rect x="170" y="460" width="6" height="1" fill="#b8142a"/>
<rect x="170" y="435" width="1" height="25" fill="#b8142a"/>
<rect x="175" y="435" width="1" height="25" fill="#b8142a"/>
<rect x="177" y="433" width="6" height="1" fill="#b8142a"/>
<rect x="177" y="460" width="6" height="1" fill="#b8142a"/>
<rect x="177" y="434" width="1" height="26" fill="#b8142a"/>
<rect x="182" y="434" width="1" height="26" fill="#b8142a"/>
<rect x="184" y="427" width="6" height="1" fill="#b8142a"/>
<rect x="184" y="460" width="6" height="1" fill="#b8142a"/>
<rect x="184" y="428" width="1" height="32" fill="#b8142a"/>
<rect x="189" y="428" width="1" height="32" fill="#b8142a"/>
<rect x="191" y="426" width="6" height="1" fill="#b8142a"/>
<rect x="191" y="460" width="6" height="1" fill="#b8142a"/>
<rect x="191" y="427" width="1" height="33" fill="#b8142a"/>
<rect x="196" y="427" width="1" height="33" fill="#b8142a"/>
<rect x="198" y="424" width="6" height="37" fill="#007e0c"/>
<rect x="205" y="427" width="6" height="1" fill="#b8142a"/>
<rect x="205" y="460" width="6" height="1" fill="#b8142a"/>
<rect x="205" y="428" width="1" height="32" fill="#b8142a"/>
<rect x="210" y="428" width="1" height="32" fill="#b8142a"/>
<rect x="212" y="425" width="6" height="36" fill="#007e0c"/>
<rect x="219" y="425" width="6" height="36" fill="#007e0c"/>
<rect x="226" y="430" width="6" height="31" fill="#007e0c"/>
<rect x="233" y="429" width="6" height="32" fill="#007e0c"/>
<rect x="240" y="409" width="6" height="52" fill="#007e0c"/>
<rect x="247" y="434" width="6" height="1" fill="#b8142a"/>
<rect x="247" y="460" width="6" height="1" fill="#b8142a"/>
<rect x="247" y="435" width="1" height="25" fill="#b8142a"/>
<rect x="252" y="435" width="1" height="25" fill="#b8142a"/>
<rect x="254" y="435" width="6" height="1" fill="#b8142a"/>
<rect x="254" y="460" width="6" height="1" fill="#b8142a"/>
<rect x="254" y="436" width="1" height="24" fill="#b8142a"/>
<rect x="259" y="436" width="1" height="24" fill="#b8142a"/>
<rect x="261" y="436" width="6" height="25" fill="#007e0c"/>
<rect x="268" y="436" width="6" height="1" fill="#b8142a"/>
<rect x="268" y="460" width="6" height="1" fill="#b8142a"/>
<rect x="268" y="437" width="1" height="23" fill="#b8142a"/>
<rect x="273" y="437" width="1" height="23" fill="#b8142a"/>
<rect x="275" y="434" width="6" height="1" fill="#b8142a"/>
<rect x="275" y="460" width="6" height="1" fill="#b8142a"/>
<rect x="275" y="435" width="1" height="25" fill="#b8142a"/>
<rect x="280" y="435" width="1" height="25" fill="#b8142a"/>
<rect x="282" y="436" width="6" height="1" fill="#b8142a"/>
<rect x="282" y="460" width="6" height="1" fill="#b8142a"/>
<rect x="282" y="437" width="1" height="23" fill="#b8142a"/>
<rect x="287" y="437" width="1" height="23" fill="#b8142a"/>
<rect x="289" y="439" width="6" height="1" fill="#b8142a"/>
<rect x="289" y="460" width="6" height="1" fill="#b8142a"/>
<rect x="289" y="440" width="1" height="20" fill="#b8142a"/>
<rect x="294" y="440" width="1" height="20" fill="#b8142a"/>
<rect x="296" y="438" width="6" height="1" fill="#b8142a"/>
<rect x="296" y="460" width="6" height="1" fill="#b8142a"/>
<rect x="296" y="439" width="1" height="21" fill="#b8142a"/>
<rect x="301" y="439" width="1" height="21" fill="#b8142a"/>
<rect x="303" y="443" width="6" height="18" fill="#007e0c"/>
<rect x="310" y="436" width="6" height="1" fill="#b8142a"/>
<rect x="310" y="460" width="6" height="1" fill="#b8142a"/>
<rect x="310" y="437" width="1" height="23" fill="#b8142a"/>
<rect x="315" y="437" width="1" height="23" fill="#b8142a"/>
<rect x="317" y="435" width="6" height="26" fill="#007e0c"/>
<rect x="324" y="432" width="6" height="1" fill="#b8142a"/>
<rect x="324" y="460" width="6" height="1" fill="#b8142a"/>
<rect x="324" y="433" width="1" height="27" fill="#b8142a"/>
<rect x="329" y="433" width="1" height="27" fill="#b8142a"/>
<rect x="331" y="423" width="6" height="1" fill="#b8142a"/>
<rect x="331" y="460" width="6" height="1" fill="#b8142a"/>
<rect x="331" y="424" width="1" height="36" fill="#b8142a"/>
<rect x="336" y="424" width="1" height="36" fill="#b8142a"/>
<rect x="338" y="413" width="6" height="1" fill="#b8142a"/>
<rect x="338" y="460" width="6" height="1" fill="#b8142a"/>
<rect x="338" y="414" width="1" height="46" fill="#b8142a"/>
<rect x="343" y="414" width="1" height="46" fill="#b8142a"/>
<rect x="345" y="417" width="6" height="1" fill="#b8142a"/>
<rect x="345" y="460" width="6" height="1" fill="#b8142a"/>
<rect x="345" y="418" width="1" height="42" fill="#b8142a"/>
<rect x="350" y="418" width="1" height="42" fill="#b8142a"/>
<rect x="352" y="423" width="6" height="1" fill="#b8142a"/>
<rect x="352" y="460" width="6" height="1" fill="#b8142a"/>
<rect x="352" y="424" width="1" height="36" fill="#b8142a"/>
<rect x="357" y="424" width="1" height="36" fill="#b8142a"/>
<rect x="359" y="413" width="6" height="48" fill="#007e0c"/>
<rect x="366" y="418" width="6" height="1" fill="#b8142a"/>
<rect x="366" y="460" width="6" height="1" fill="#b8142a"/>
<rect x="366" y="419" width="1" height="41" fill="#b8142a"/>
<rect x="371" y="419" width="1" height="41" fill="#b8142a"/>
<rect x="373" y="416" width="6" height="45" fill="#007e0c"/>
<rect x="380" y="415" width="6" height="1" fill="#b8142a"/>
<rect x="380" y="460" width="6" height="1" fill="#b8142a"/>
<rect x="380" y="416" width="1" height="44" fill="#b8142a"/>
<rect x="385" y="416" width="1" height="44" fill="#b8142a"/>
<rect x="387" y="419" width="6" height="1" fill="#b8142a"/>
<rect x="387" y="460" width="6" height="1" fill="#b8142a"/>
<rect x="387" y="420" width="1" height="40" fill="#b8142a"/>
<rect x="392" y="420" width="1" height="40" fill="#b8142a"/>
<rect x="394" y="419" width="6" height="1" fill="#b8142a"/>
<rect x="394" y="460" width="6" height="1" fill="#b8142a"/>
<rect x="394" y="420" width="1" height="40" fill="#b8142a"/>
<rect x="399" y="420" width="1" height="40" fill="#b8142a"/>
<rect x="401" y="419" width="6" height="42" fill="#007e0c"/>
<rect x="408" y="424" width="6" height="1" fill="#b8142a"/>
<rect x="408" y="460" width="6" height="1" fill="#b8142a"/>
<rect x="408" y="425" width="1" height="35" fill="#b8142a"/>
<rect x="413" y="425" width="1" height="35" fill="#b8142a"/>
<rect x="415" y="424" width="6" height="37" fill="#007e0c"/>
<rect x="422" y="431" width="6" height="1" fill="#b8142a"/>
<rect x="422" y="460" width="6" height="1" fill="#b8142a"/>
<rect x="422" y="432" width="1" height="28" fill="#b8142a"/>
<rect x="427" y="432" width="1" height="28" fill="#b8142a"/>
<rect x="429" y="423" width="6" height="1" fill="#b8142a"/>
<rect x="429" y="460" width="6" height="1" fill="#b8142a"/>
<rect x="429" y="424" width="1" height="36" fill="#b8142a"/>
<rect x="434" y="424" width="1" height="36" fill="#b8142a"/>
<rect x="436" y="425" width="6" height="36" fill="#007e0c"/>
<rect x="443" y="430" width="6" height="31" fill="#007e0c"/>
<rect x="450" y="430" width="6" height="1" fill="#b8142a"/>
<rect x="450" y="460" width="6" height="1" fill="#b8142a"/>
<rect x="450" y="431" width="1" height="29" fill="#b8142a"/>
<rect x="455" y="431" width="1" height="29" fill="#b8142a"/>
<rect x="457" y="428" width="6" height="1" fill="#b8142a"/>
<rect x="457" y="460" width="6" height="1" fill="#b8142a"/>
<rect x="457" y="429" width="1" height="31" fill="#b8142a"/>
<rect x="462" y="429" width="1" height="31" fill="#b8142a"/>
<rect x="464" y="429" width="6" height="1" fill="#b8142a"/>
<rect x="464" y="460" width="6" height="1" fill="#b8142a"/>
<rect x="464" y="430" width="1" height="30" fill="#b8142a"/>
<rect x="469" y="430" width="1" height="30" fill="#b8142a"/>
<rect x="471" y="427" width="6" height="34" fill="#007e0c"/>
<rect x="478" y="434" width="6" height="27" fill="#007e0c"/>
<rect x="485" y="428" width="6" height="1" fill="#b8142a"/>
<rect x="485" y="460" width="6" height="1" fill="#b8142a"/>
<rect x="485" y="429" width="1" height="31" fill="#b8142a"/>
<rect x="490" y="429" width="1" height="31" fill="#b8142a"/>
<rect x="492" y="432" width="6" height="1" fill="#b8142a"/>
<rect x="492" y="460" width="6" height="1" fill="#b8142a"/>
<rect x="492" y="433" width="1" height="27" fill="#b8142a"/>
<rect x="497" y="433" width="1" height="27" fill="#b8142a"/>
<rect x="499" y="432" width="6" height="1" fill="#b8142a"/>
<rect x="499" y="460" width="6" height="1" fill="#b8142a"/>
<rect x="499" y="433" width="1" height="27" fill="#b8142a"/>
<rect x="504" y="433" width="1" height="27" fill="#b8142a"/>
<rect x="506" y="423" width="6" height="1" fill="#b8142a"/>
<rect x="506" y="460" width="6" height="1" fill="#b8142a"/>
<rect x="506" y="424" width="1" height="36" fill="#b8142a"/>
<rect x="511" y="424" width="1" height="36" fill="#b8142a"/>
<rect x="513" y="421" width="6" height="40" fill="#007e0c"/>
<rect x="520" y="427" width="6" height="1" fill="#b8142a"/>
<rect x="520" y="460" width="6" height="1" fill="#b8142a"/>
<rect x="520" y="428" width="1" height="32" fill="#b8142a"/>
<rect x="525" y="428" width="1" height="32" fill="#b8142a"/>
<rect x="527" y="428" width="6" height="1" fill="#b8142a"/>
<rect x="527" y="460" width="6" height="1" fill="#b8142a"/>
<rect x="527" y="429" width="1" height="31" fill="#b8142a"/>
<rect x="532" y="429" width="1" height="31" fill="#b8142a"/>
<rect x="534" y="423" width="6" height="38" fill="#007e0c"/>
<rect x="541" y="422" width="6" height="1" fill="#b8142a"/>
<rect x="541" y="460" width="6" height="1" fill="#b8142a"/>
<rect x="541" y="423" width="1" height="37" fill="#b8142a"/>
<rect x="546" y="423" width="1" height="37" fill="#b8142a"/>
<rect x="548" y="417" width="6" height="1" fill="#b8142a"/>
<rect x="548" y="460" width="6" height="1" fill="#b8142a"/>
<rect x="548" y="418" width="1" height="42" fill="#b8142a"/>
<rect x="553" y="418" width="1" height="42" fill="#b8142a"/>
<rect x="555" y="421" width="6" height="40" fill="#007e0c"/>
<rect x="562" y="429" width="6" height="32" fill="#007e0c"/>
<rect x="569" y="418" width="6" height="43" fill="#007e0c"/>
<rect x="576" y="412" width="6" height="49" fill="#007e0c"/>
<rect x="583" y="422" width="6" height="1" fill="#b8142a"/>
<rect x="583" y="460" width="6" height="1" fill="#b8142a"/>
<rect x="583" y="423" width="1" height="37" fill="#b8142a"/>
<rect x="588" y="423" width="1" height="37" fill="#b8142a"/>
<rect x="590" y="411" width="6" height="1" fill="#b8142a"/>
<rect x="590" y="460" width="6" height="1" fill="#b8142a"/>
<rect x="590" y="412" width="1" height="48" fill="#b8142a"/>
<rect x="595" y="412" width="1" height="48" fill="#b8142a"/>
<rect x="597" y="412" width="6" height="1" fill="#b8142a"/>
<rect x="597" y="460" width="6" height="1" fill="#b8142a"/>
<rect x="597" y="413" width="1" height="47" fill="#b8142a"/>
<rect x="602" y="413" width="1" height="47" fill="#b8142a"/>
<rect x="604" y="414" width="6" height="1" fill="#b8142a"/>
<rect x="604" y="460" width="6" height="1" fill="#b8142a"/>
<rect x="604" y="415" width="1" height="45" fill="#b8142a"/>
<rect x="609" y="415" width="1" height="45" fill="#b8142a"/>
<rect x="611" y="414" width="6" height="47" fill="#007e0c"/>
<rect x="618" y="405" width="6" height="1" fill="#b8142a"/>
<rect x="618" y="460" width="6" height="1" fill="#b8142a"/>
<rect x="618" y="406" width="1" height="54" fill="#b8142a"/>
<rect x="623" y="406" width="1" height="54" fill="#b8142a"/>
<rect x="625" y="407" width="6" height="54" fill="#007e0c"/>
<rect x="632" y="419" width="6" height="1" fill="#b8142a"/>
<rect x="632" y="460" width="6" height="1" fill="#b8142a"/>
<rect x="632" y="420" width="1" height="40" fill="#b8142a"/>
<rect x="637" y="420" width="1" height="40" fill="#b8142a"/>
<rect x="639" y="418" width="6" height="43" fill="#007e0c"/>
<rect x="646" y="418" width="6" height="43" fill="#007e0c"/>
<rect x="653" y="423" width="6" height="38" fill="#007e0c"/>
<rect x="660" y="418" width="6" height="43" fill="#007e0c"/>
<rect x="667" y="423" width="6" height="1" fill="#b8142a"/>
<rect x="667" y="460" width="6" height="1" fill="#b8142a"/>
<rect x="667" y="424" width="1" height="36" fill="#b8142a"/>
<rect x="672" y="424" width="1" height="36" fill="#b8142a"/>
<rect x="674" y="428" width="6" height="1" fill="#b8142a"/>
<rect x="674" y="460" width="6" height="1" fill="#b8142a"/>
<rect x="674" y="429" width="1" height="31" fill="#b8142a"/>
<rect x="679" y="429" width="1" height="31" fill="#b8142a"/>
</g>
<g fill="none" shape-rendering="crispEdges">
<polyline points="0.00,98.70 6.30,96.90 12.60,93.40 25.10,87.10 37.70,81.10 42.70,79.30 52.80,75.60 60.00,73.60 66.70,72.20 68.40,71.60 76.10,63.50 80.20,61.50 88.20,57.40 95.00,54.40 111.80,54.40 113.80,53.40 120.00,51.50 123.10,49.50 133.80,49.30 135.70,48.50 142.00,47.90 155.20,47.50 157.00,46.70 162.70,46.60 167.70,47.90 173.40,49.40 179.00,47.90 184.00,46.60 204.20,46.40 205.40,45.50 216.70,45.40 221.80,43.60 226.80,44.50 232.00,45.20 247.10,41.70 250.80,41.40 257.10,43.20 269.70,45.40 282.30,48.20 293.60,48.60 299.80,50.20 309.90,51.10 319.90,54.20 335.00,55.50 341.30,58.40 344.00,58.60 349.00,59.40 354.00,62.20 359.10,63.20 372.90,64.10 379.20,64.10 381.70,63.20 388.00,62.30 394.30,62.90 400.50,62.60 406.80,62.30 411.80,63.60 419.40,68.60 425.70,70.10 431.90,69.50 446.00,69.40 452.30,67.30 467.40,67.10 473.60,65.20 478.70,66.20 488.70,66.20 495.00,64.30 503.80,64.20 510.00,62.70 515.10,59.80 521.40,58.50 531.40,58.30 536.50,56.80 544.00,54.30 551.50,52.40 556.50,51.20 561.00,50.90 568.60,49.60 578.60,47.40 586.20,49.20 592.40,47.40 600.00,45.50 610.00,44.20 615.00,42.30 621.30,39.60 631.40,37.30 636.40,35.80 641.40,33.30 650.20,32.00 656.50,31.00 664.00,29.10 673.50,29.30 682.30,31.80 692.40,33.80 698.70,35.60 708.70,39.30 718.80,44.10 726.30,48.10 736.40,50.60 746.40,54.80 756.50,57.70 764.00,60.70 778.00,65.40 784.30,68.20 793.10,70.70 805.60,74.40 815.70,78.20 824.50,79.80 833.30,84.10 843.30,86.60 852.10,89.10 859.70,94.20 868.50,97.10 878.50,100.80 886.70,104.60" fill="none" stroke="#b02228" stroke-width="1"/>
<polyline points="0.00,146.50 3.80,145.50 12.60,141.70 25.10,136.90 37.70,131.00 50.30,126.60 66.60,122.80 70.40,121.00 75.40,118.40 82.90,114.00 90.50,111.50 95.50,109.30 110.00,109.30 115.00,107.70 122.60,106.40 128.80,105.20 135.10,104.30 147.70,104.20 150.20,103.30 169.00,103.30 170.30,104.60 176.60,104.60 177.80,103.60 190.40,103.30 191.70,102.30 204.20,102.00 205.50,101.20 218.00,101.20 219.30,100.40 222.00,100.30 225.80,101.30 232.00,101.30 233.90,100.30 239.60,100.30 240.80,99.30 253.40,99.30 254.70,100.30 260.90,100.50 262.20,101.30 267.20,101.50 269.70,102.50 274.80,103.00 277.30,104.30 288.60,104.60 289.80,105.30 296.10,105.60 297.40,106.30 307.40,106.60 309.90,107.60 316.20,108.10 318.70,109.30 323.80,109.70 325.00,110.30 334.00,110.30 339.00,111.50 344.00,112.50 350.30,114.00 355.40,115.30 365.40,115.60 367.90,116.60 374.20,117.20 379.20,116.60 381.70,116.20 399.30,116.20 401.80,115.30 411.90,115.30 414.40,116.60 417.50,118.20 434.50,118.40 437.00,117.20 442.00,116.60 446.00,116.30 458.60,114.70 471.10,112.80 483.70,111.60 496.30,109.30 508.80,107.20 521.40,104.30 533.90,102.20 546.50,99.70 558.00,98.20 570.60,95.90 578.10,94.40 589.40,94.00 602.00,90.80 614.50,88.10 620.80,85.60 633.40,82.70 645.90,79.80 658.50,78.30 664.80,77.00 670.00,77.05 677.50,78.00 687.60,79.70 695.10,80.90 705.20,83.00 715.20,85.30 722.80,87.80 725.30,89.30 732.80,90.30 745.40,93.10 757.90,96.00 770.50,98.90 782.00,101.70 792.60,104.30 805.10,107.00 817.70,109.60 830.30,112.10 842.80,114.30 852.90,116.80 860.40,119.40 870.50,121.60 880.50,124.40 886.80,127.50" fill="none" stroke="#1a1aa0" stroke-width="1"/>
<polyline points="0.00,200.50 5.00,199.10 12.60,195.90 25.10,191.50 37.70,187.80 50.30,184.40 62.80,180.60 75.40,176.80 85.40,174.60 93.00,173.10 100.50,171.40 112.00,171.20 114.50,170.40 127.10,170.10 129.60,169.20 134.60,168.60 148.40,168.20 149.70,167.30 187.40,167.30 189.90,166.30 205.00,166.00 207.50,165.00 218.80,164.80 221.30,164.20 246.60,164.10 247.90,164.90 260.40,165.30 261.70,166.20 268.00,166.50 269.20,167.40 281.80,167.80 283.00,168.70 289.30,169.10 290.60,169.60 303.10,169.90 304.40,170.60 317.00,170.80 318.20,171.60 330.80,172.10 332.00,173.10 344.50,173.50 345.50,174.50 351.50,174.50 352.50,175.50 365.70,175.30 366.30,176.30 393.30,176.30 394.50,175.30 407.70,175.10 409.00,174.20 421.60,173.80 422.80,172.80 429.10,172.60 430.40,171.90 435.40,171.60 436.60,171.10 442.90,170.70 444.20,170.00 450.50,169.50 451.70,168.80 456.70,168.50 459.20,167.50 466.80,166.30 472.00,165.50 484.60,163.60 497.10,161.40 509.70,158.20 522.30,156.10 529.80,154.40 541.10,153.80 553.70,151.60 566.20,149.40 574.00,148.40 578.80,147.50 584.00,146.70 590.30,144.70 596.60,142.80 609.10,140.10 621.70,137.60 631.70,135.10 639.30,133.40 645.60,132.50 646.80,132.20 665.70,132.20 667.50,131.30 680.70,131.30 682.00,132.50 701.00,132.30 702.30,133.30 714.80,133.50 716.10,134.40 728.70,134.50 729.90,135.40 736.20,135.80 737.50,136.70 743.70,137.10 745.00,137.90 763.80,138.30 765.10,139.20 771.40,139.60 772.60,140.40 785.20,140.80 786.50,141.60 799.00,142.10 800.30,142.70 806.20,142.50 807.20,143.20 820.60,143.40 821.60,144.20 834.00,144.50 835.60,145.30 841.20,145.50 842.30,146.30 848.50,146.50 849.50,147.30 861.90,147.50 863.40,148.40 869.10,148.60 870.10,149.40 876.30,149.60 877.30,150.40 886.60,151.50" fill="none" stroke="#000000" stroke-width="1"/>
<polyline points="0.00,274.50 3.50,274.50 9.00,271.50 25.00,265.40 30.50,264.30 37.70,263.60 46.60,261.40 57.40,259.80 62.80,258.60 67.30,256.50 71.70,256.50 72.60,257.40 97.60,257.30 98.80,256.40 102.60,255.20 107.60,254.30 113.30,254.30 115.20,255.20 120.20,255.60 122.70,256.40 125.20,256.10 130.30,254.60 147.80,254.30 150.40,253.30 167.90,253.10 170.50,252.00 173.60,251.40 176.70,252.30 180.50,253.30 190.60,253.10 192.00,252.30 197.70,252.30 198.90,251.30 211.50,251.30 212.70,250.30 225.90,250.30 227.20,249.30 237.20,249.30 239.70,250.70 242.30,252.30 246.00,253.20 249.80,254.40 253.60,253.60 256.10,252.60 260.50,252.60 261.70,253.30 281.20,253.30 282.50,254.40 288.70,254.40 290.00,255.30 295.00,255.30 296.30,254.40 302.60,254.40 304.00,255.20 323.50,255.20 324.70,256.40 330.40,256.40 331.60,257.30 337.90,257.30 339.20,256.40 379.40,256.40 380.60,257.30 386.90,257.30 388.20,256.40 393.80,256.40 395.10,255.20 407.60,255.20 409.50,254.20 412.00,253.90 414.00,252.40 424.00,247.40 432.80,246.10 445.40,242.70 458.00,239.60 466.80,237.30 475.60,237.10 480.60,234.60 494.40,231.40 508.20,228.30 514.50,227.00 526.00,225.10 528.50,224.50 547.40,224.10 548.60,223.20 559.30,223.20 561.20,222.40 570.00,220.70 580.00,219.10 585.00,216.60 595.10,214.10 606.40,210.70 612.70,208.80 624.00,208.20 626.50,207.30 638.00,205.30 639.30,206.30 645.50,206.30 646.80,205.30 659.40,205.30 660.60,206.30 666.30,206.30 667.50,205.30 680.70,205.30 682.00,204.40 694.50,204.40 695.80,203.40 702.10,203.20 703.30,202.30 709.00,202.20 710.20,201.30 715.90,201.10 717.10,200.00 723.40,199.80 724.70,198.50 737.20,198.30 738.50,197.30 750.00,197.10 751.30,196.30 757.50,196.10 758.80,195.30 778.30,195.30 779.50,194.40 785.80,194.20 787.10,193.20 811.60,193.20 812.80,192.30 816.00,192.20 817.20,191.30 825.40,191.10 827.30,190.00 830.40,189.40 848.00,189.20 849.00,188.40 855.90,188.40 856.40,187.40 862.80,187.40 863.30,186.40 876.60,186.40 877.10,185.30 883.80,185.30 884.30,184.40 886.70,184.40" fill="none" stroke="#1a1aa0" stroke-width="1"/>
<polyline points="0.00,340.40 3.80,340.00 12.60,336.20 16.30,335.60 25.10,333.70 36.40,333.30 41.50,332.40 50.30,331.20 57.80,330.30 62.80,328.70 68.50,325.50 72.90,328.00 76.60,330.60 81.70,332.10 93.00,332.40 95.50,333.30 98.00,333.10 103.00,331.20 108.00,330.30 112.00,330.50 115.80,331.60 119.50,333.30 124.60,334.30 130.80,332.40 135.90,331.20 140.90,331.60 143.40,332.40 148.40,332.40 149.70,331.20 155.30,331.20 157.20,332.40 162.30,332.40 164.80,331.20 168.50,330.60 172.90,328.30 176.10,329.30 179.80,330.30 184.90,331.20 189.90,331.20 192.40,330.30 197.40,330.20 199.90,329.30 208.70,329.30 212.50,328.10 215.00,327.00 218.80,327.40 220.00,328.30 224.00,328.00 227.80,326.80 231.50,326.50 234.00,327.00 236.60,327.40 240.30,329.90 244.10,332.40 246.60,333.30 250.40,334.30 254.20,332.80 256.70,331.20 260.40,331.20 261.70,332.40 274.30,332.40 275.50,331.20 288.10,331.20 289.30,332.40 309.40,332.40 310.70,331.20 320.70,331.20 323.20,332.40 325.80,332.40 327.00,333.30 336.00,333.00 341.00,330.30 344.80,330.90 348.60,331.50 354.80,329.40 377.50,329.40 382.50,331.10 386.30,331.50 391.30,330.30 396.30,327.80 400.10,327.40 402.60,328.40 406.40,328.10 411.40,326.50 415.10,322.70 418.90,318.30 423.90,315.60 427.70,313.90 434.00,312.00 440.30,310.20 446.00,308.60 453.50,307.40 458.60,304.90 466.10,301.60 475.50,301.60 481.20,298.60 490.00,296.10 498.80,293.60 508.80,290.70 513.80,291.60 518.90,290.70 525.10,288.80 530.20,286.30 533.90,286.90 540.20,287.50 542.70,288.50 558.00,288.40 564.30,285.20 570.60,284.40 575.60,284.60 579.40,285.20 586.90,279.00 591.90,277.70 595.70,276.80 602.00,274.80 608.30,273.10 613.30,270.50 617.00,270.50 619.60,271.40 629.60,271.40 634.60,269.50 640.90,271.00 652.20,271.00 656.00,270.20 658.50,270.50 662.30,273.30 666.00,273.30 670.00,272.40 678.00,272.40 680.60,271.40 688.10,268.90 698.20,267.00 703.20,264.50 710.70,262.40 718.30,258.80 725.80,254.80 735.80,254.40 740.90,253.20 745.90,251.10 755.90,248.20 766.00,245.70 774.80,244.00 780.00,243.00 792.60,239.40 805.10,237.90 811.40,236.90 817.70,234.40 824.00,232.90 831.50,229.40 840.30,228.10 851.60,226.20 855.40,224.30 862.90,221.20 870.50,219.90 878.00,218.00 886.80,213.70" fill="none" stroke="#b02228" stroke-width="1"/>
</g>
<polyline points="12.5,98.5 15,98.5 31.5,103.5" fill="none" stroke="#1a1aa0" stroke-width="1"/>
<text x="32.8" y="114" textLength="58.6" lengthAdjust="spacingAndGlyphs" style="font-family:'Liberation Sans',sans-serif;font-size:10.5px;fill:#1e1eb0;stroke:#1e1eb0;stroke-width:0.2px">3301.2100</text>
<rect x="0" y="461" width="892" height="2" fill="#8c8c8c"/>
</svg>
</body></html>
